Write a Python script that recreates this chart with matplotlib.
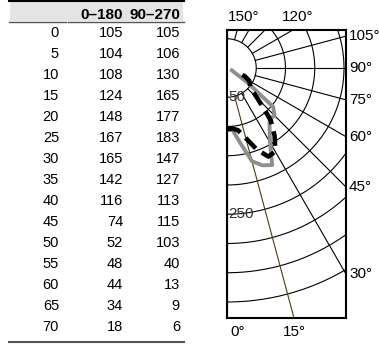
import numpy as np
import matplotlib
matplotlib.use('Agg')
import matplotlib.pyplot as plt
from matplotlib.lines import Line2D
from matplotlib.patches import Rectangle

plt.rcParams['font.family'] = ['Liberation Sans', 'DejaVu Sans']

# ---------------- data ----------------
angles = [0, 5, 10, 15, 20, 25, 30, 35, 40, 45, 50, 55, 60, 65, 70]
i_0_180 = [105, 104, 108, 124, 148, 167, 165, 142, 116, 74, 52, 48, 44, 34, 18]
i_90_270 = [105, 106, 130, 165, 177, 183, 147, 127, 113, 115, 103, 40, 13, 9, 6]
col_headers = ['0–180', '90–270']

grid_radii = [50, 100, 150, 200, 250, 300, 350, 400]
grid_angles = [0, 15, 30, 45, 60, 75, 90, 105, 120, 135, 150, 165, 180]
radius_labels = [50, 250]
right_labels = [30, 45, 60, 75, 90, 105]
top_labels = [120, 150]
bottom_labels = [0, 15]

# ---------------- figure ----------------
W, H = 379, 350
fig = plt.figure(figsize=(W / 100, H / 100), dpi=100)


def fx(px):
    return px / W


def fy(py):
    return 1 - py / H


FS = 10.5
FSL = 11

# ---- table ----
fig.patches.append(Rectangle((fx(10), fy(21)), fx(183) - fx(10), fy(1) - fy(21),
                             transform=fig.transFigure, facecolor='#e4e4e4',
                             edgecolor='none', zorder=0))
for x0, x1 in [(9, 66), (68, 184)]:
    fig.add_artist(Line2D([fx(x0), fx(x1)], [fy(1), fy(1)], color='black', lw=1.5,
                          transform=fig.transFigure))
    fig.add_artist(Line2D([fx(x0), fx(x1)], [fy(21.5), fy(21.5)], color='#555555', lw=1.0,
                          transform=fig.transFigure))
    fig.add_artist(Line2D([fx(x0), fx(x1)], [fy(341.5), fy(341.5)], color='#555555', lw=1.5,
                          transform=fig.transFigure))

col_x = [59, 123, 180]
fig.text(fx(col_x[1]), fy(15), col_headers[0], ha='right', va='center', fontsize=FSL,
         fontweight='bold')
fig.text(fx(col_x[2]), fy(15), col_headers[1], ha='right', va='center', fontsize=FSL,
         fontweight='bold')
row_h = 21.0
for i, (a, v1, v2) in enumerate(zip(angles, i_0_180, i_90_270)):
    y = fy(33 + i * row_h)
    fig.text(fx(col_x[0]), y, str(a), ha='right', va='center', fontsize=FS)
    fig.text(fx(col_x[1]), y, str(v1), ha='right', va='center', fontsize=FS)
    fig.text(fx(col_x[2]), y, str(v2), ha='right', va='center', fontsize=FS)

# ---- polar diagram (cartesian axes, 0 deg pointing down) ----
cx, cy = 227, 68
left, right, top, bottom = 227, 346, 30, 318
scale = 0.585  # px per cd
ax = fig.add_axes([fx(left), fy(bottom), (right - left) / W, (bottom - top) / H])
ax.set_xlim((left - cx) / scale, (right - cx) / scale)
ax.set_ylim(-(bottom - cy) / scale, (cy - top) / scale)
ax.set_xticks([])
ax.set_yticks([])
for s in ax.spines.values():
    s.set_linewidth(1.5)
    s.set_color('black')

t = np.linspace(0, 2 * np.pi, 721)
for r in grid_radii:
    ax.plot(r * np.sin(t), r * np.cos(t), color='black', lw=0.8, zorder=1)
for a in grid_angles:
    th = np.radians(a)
    col = '#4d3a10' if a == 15 else 'black'
    ax.plot([50 * np.sin(th), 900 * np.sin(th)], [-50 * np.cos(th), -900 * np.cos(th)],
            color=col, lw=0.8, zorder=1)

th = np.radians(angles)
r2 = np.array(i_90_270)
r1 = np.array(i_0_180)
ax.plot(r2 * np.sin(th), -r2 * np.cos(th), color='#8f8f8f', lw=2.8, zorder=3,
        solid_capstyle='butt', solid_joinstyle='round')
ax.plot(r1 * np.sin(th), -r1 * np.cos(th), color='black', lw=3.3, zorder=4,
        dashes=(3.2, 1.6), dash_capstyle='butt')

for r in radius_labels:
    ax.text(2, -r, str(r), ha='left', va='center', fontsize=FSL, color='#333333', zorder=2)

xmax = (right - cx) / scale
ymax = (cy - top) / scale
ymin = -(bottom - cy) / scale
for a in right_labels:
    thr = np.radians(a)
    yv = -xmax * np.cos(thr) / np.sin(thr)
    ax.annotate(f'{a}°', (xmax, yv), xytext=(3, 0), textcoords='offset pixels',
                ha='left', va='center', fontsize=FSL, annotation_clip=False)
top_off = {150: -5, 120: 5}
for a in top_labels:
    thr = np.radians(a)
    xv = ymax * np.sin(thr) / (-np.cos(thr))
    ax.annotate(f'{a}°', (xv, ymax), xytext=(top_off[a], 13), textcoords='offset pixels',
                ha='center', va='center', fontsize=FSL, annotation_clip=False)
for a in bottom_labels:
    thr = np.radians(a)
    xv = -ymin * np.tan(thr)
    if a == 0:
        ax.annotate(f'{a}°', (xv, ymin), xytext=(3, -14), textcoords='offset pixels',
                    ha='left', va='center', fontsize=FSL, annotation_clip=False)
    else:
        ax.annotate(f'{a}°', (xv, ymin), xytext=(0, -14), textcoords='offset pixels',
                    ha='center', va='center', fontsize=FSL, annotation_clip=False)

fig.savefig('out.png', dpi=100)
